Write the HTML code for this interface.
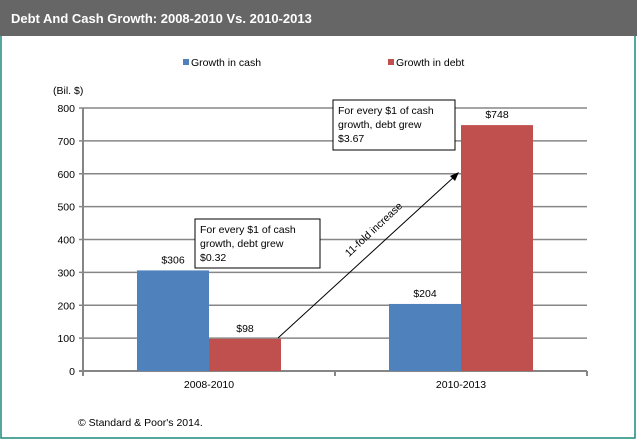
<!DOCTYPE html>
<html><head><meta charset="utf-8"><style>
body{margin:0;width:637px;height:440px;overflow:hidden;background:#fff;font-family:"Liberation Sans",sans-serif}
</style></head><body>
<svg width="637" height="440" viewBox="0 0 637 440" font-family="Liberation Sans, sans-serif">
<rect x="1" y="1" width="634" height="437" fill="#fff" stroke="#1a8a7a" stroke-width="1.5"/>
<rect x="0" y="0" width="637" height="36" fill="#666666"/>
<text x="11" y="23" fill="#fff" font-size="13" font-weight="bold">Debt And Cash Growth: 2008-2010  Vs. 2010-2013</text>
<rect x="183" y="59" width="6" height="6" fill="#4f81bd"/>
<text x="191" y="66" font-size="10.5">Growth in cash</text>
<rect x="388" y="59" width="6" height="6" fill="#c0504d"/>
<text x="396" y="66" font-size="10.5">Growth in debt</text>
<text x="53" y="94" font-size="10.5">(Bil. $)</text>
<g id="grid"></g><g id="bars"></g><g id="labels"></g>
<rect x="195" y="219" width="125" height="49" fill="#fff" stroke="#000"/>
<text font-size="10.5"><tspan x="200" y="233">For every $1 of cash</tspan><tspan x="200" y="247">growth, debt grew</tspan><tspan x="200" y="261">$0.32</tspan></text>
<rect x="333" y="100" width="122" height="50" fill="#fff" stroke="#000"/>
<text font-size="10.5"><tspan x="338" y="114">For every $1 of cash</tspan><tspan x="338" y="128">growth, debt grew</tspan><tspan x="338" y="142">$3.67</tspan></text>
<line x1="278" y1="338" x2="455" y2="176" stroke="#000" stroke-width="1"/>
<polygon points="459,172 450,176 455,181" fill="#000"/>
<text transform="translate(376,232) rotate(-43)" text-anchor="middle" font-size="10.5">11-fold increase</text>
<text x="78" y="426" font-size="10.5">© Standard &amp; Poor's 2014.</text>
</svg>
<script>
const categories=["2008-2010","2010-2013"];
const cash=[306,204];
const debt=[98,748];
const ticks=[0,100,200,300,400,500,600,700,800];
const ns="http://www.w3.org/2000/svg";
const X0=83,X1=587,Y0=371,Y800=108;
const y=v=>Y0-(v/800)*(Y0-Y800);
const cw=(X1-X0)/categories.length;
function mk(t,a,p){const e=document.createElementNS(ns,t);for(const k in a)e.setAttribute(k,a[k]);document.getElementById(p).appendChild(e);return e;}
ticks.forEach(t=>{
 const l=mk('line',{x1:X0-4,x2:X1,y1:y(t),y2:y(t),stroke:'#868686','stroke-width':t===0?2:1.5},'grid');
 
 
 const tx=mk('text',{x:75,y:y(t)+4,'text-anchor':'end','font-size':10.5},'grid');tx.textContent=t;
 
 
});
const ax=mk('line',{x1:X0,x2:X0,y1:Y800,y2:Y0+4,stroke:'#868686','stroke-width':2},'grid');


for(let i=0;i<=categories.length;i++){const tk=mk('line',{x1:X0+i*cw,x2:X0+i*cw,y1:Y0,y2:Y0+5,stroke:'#868686','stroke-width':2},'grid');
 
 }
const bw=72;
categories.forEach((c,i)=>{
 const cx=X0+cw*(i+0.5);
 const t=mk('text',{x:cx,y:388,'text-anchor':'middle','font-size':10.5},'labels');t.textContent=c;
 
 
 [[cash[i],'#4f81bd',cx-bw,'cash'],[debt[i],'#c0504d',cx,'debt']].forEach(([v,col,x,n])=>{
  const r=mk('rect',{x:x,y:y(v),width:bw,height:Y0-y(v),fill:col},'bars');
  
  
  const lb=mk('text',{x:x+bw/2,y:y(v)-7,'text-anchor':'middle','font-size':10.5},'labels');lb.textContent='$'+v;
  
  
 });
});
</script>
</body></html>
